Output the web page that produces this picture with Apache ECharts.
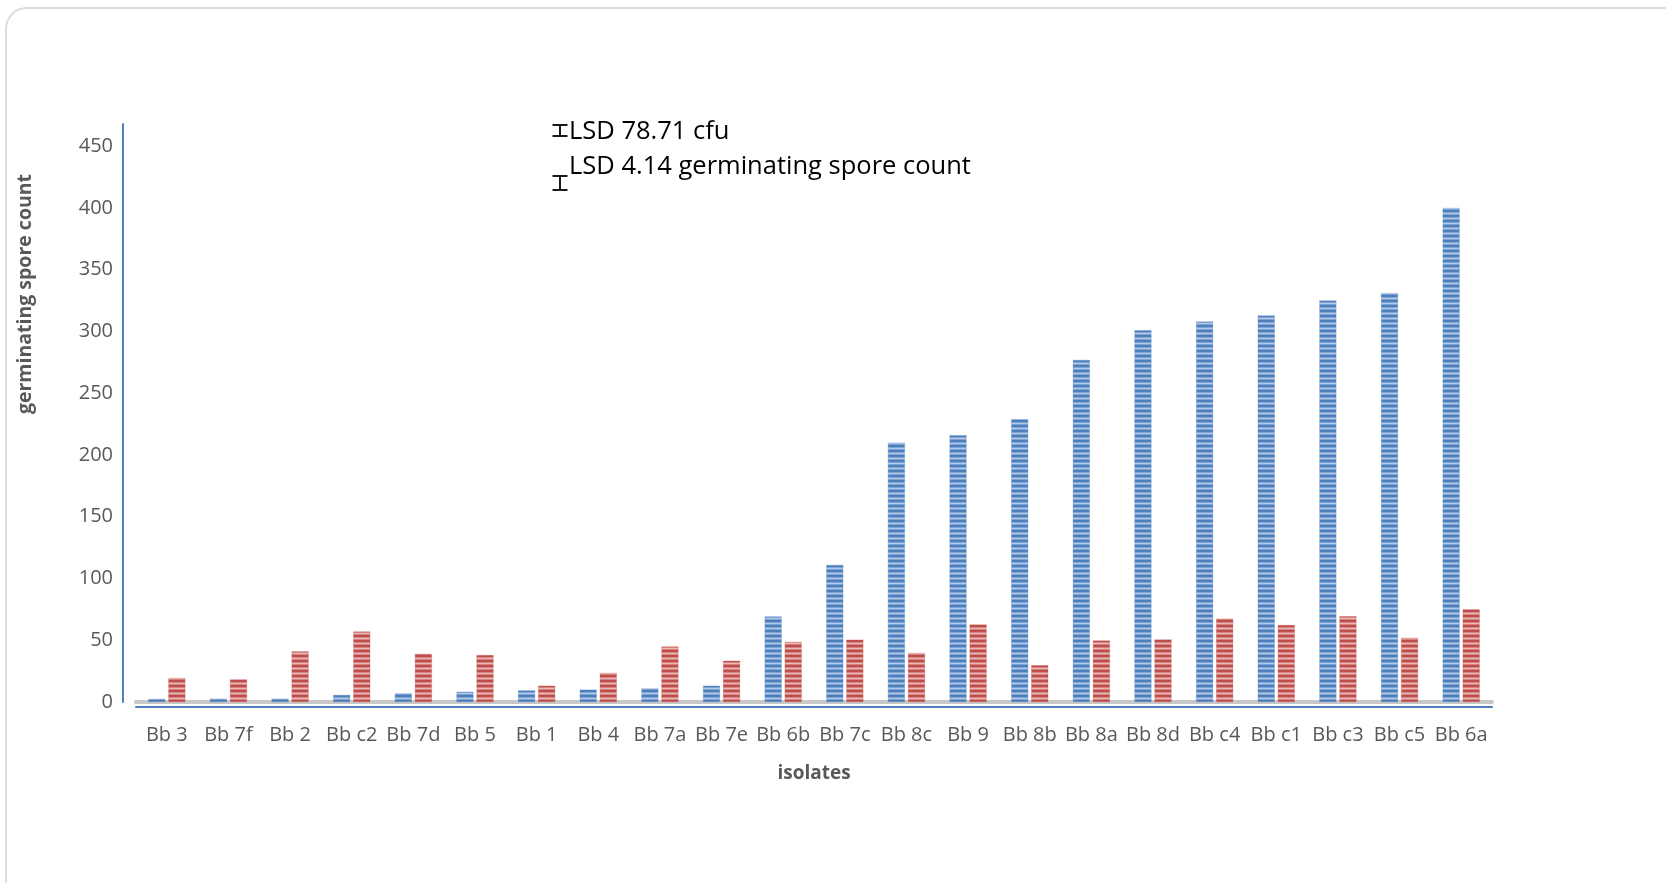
<!DOCTYPE html>
<html>
<head>
<meta charset="utf-8">
<title>germinating spore count</title>
<script src="https://cdn.jsdelivr.net/npm/echarts@6/dist/echarts.min.js"></script>
<style>
  html, body { margin: 0; padding: 0; background: #fff; overflow: hidden; }
  #frame {
    position: absolute; left: 5px; top: 7px; width: 1700px; height: 1000px;
    border: 2px solid #dcdcdc; border-radius: 22px; box-sizing: border-box;
  }
  #chart { position: absolute; left: 0; top: 0; width: 1666px; height: 883px; }
</style>
</head>
<body>
<div id="frame"></div>
<div id="chart"></div>
<script>
// data
const isolates = ['Bb 3', 'Bb 7f', 'Bb 2', 'Bb c2', 'Bb 7d', 'Bb 5', 'Bb 1', 'Bb 4', 'Bb 7a', 'Bb 7e', 'Bb 6b',
  'Bb 7c', 'Bb 8c', 'Bb 9', 'Bb 8b', 'Bb 8a', 'Bb 8d', 'Bb c4', 'Bb c1', 'Bb c3', 'Bb c5', 'Bb 6a']
const cfu = [2.5, 2.7, 2.7, 5.7, 7, 8.3, 9.4, 10, 11, 13.2, 69.3, 111, 210, 216, 229, 277, 301, 308, 313, 325, 331, 400]
const germinating = [19.4, 18.3, 41, 57, 39, 38, 13.2, 23.5, 45, 33.4, 48.6, 50.5, 39.7, 62.8, 29.8, 49.8, 50.7, 67.5, 62.3, 69.4, 52, 75]
const yTicks = { min: 0, max: 468, interval: 50 }

// horizontal stripe fill like the excel pattern
const stripes = (rows) => {
  const c = document.createElement('canvas')
  c.width = 4
  c.height = rows.length
  const ctx = c.getContext('2d')
  rows.forEach((col, i) => {
    ctx.fillStyle = col
    ctx.fillRect(0, i, 4, 1)
  })
  return { image: c, repeat: 'repeat' }
}
const blueFill = stripes(['#4A7EBB', '#4F81BD', '#7FA4D3', '#B3CAE8', '#7FA4D3'])
const redFill = stripes(['#BC4C49', '#C0504D', '#D58482', '#EBB8B7', '#D58482'])

const gray = '#595959'
const chart = echarts.init(document.getElementById('chart'))

// small I-beam marks beside the LSD notes
const ibeam = (x, y1, y2, w) => ({
  type: 'group',
  children: [
    { type: 'line', shape: { x1: x - w / 2, y1: y1, x2: x + w / 2, y2: y1 }, style: { stroke: '#000', lineWidth: 1.8 } },
    { type: 'line', shape: { x1: x, y1: y1, x2: x, y2: y2 }, style: { stroke: '#000', lineWidth: 1.8 } },
    { type: 'line', shape: { x1: x - w / 2, y1: y2, x2: x + w / 2, y2: y2 }, style: { stroke: '#000', lineWidth: 1.8 } },
  ],
})

const option = {
  animation: false,
  textStyle: { fontFamily: 'Open Sans' },
  grid: { left: 136, right: 174, top: 124, bottom: 181 },
  xAxis: [
    {
      type: 'category',
      data: isolates,
      axisLine: { lineStyle: { color: '#c8c8c8', width: 4 } },
      axisTick: { show: false },
      axisLabel: { color: gray, fontSize: 20, margin: 23, interval: 0 },
      name: 'isolates',
      nameLocation: 'middle',
      nameGap: 62,
      nameTextStyle: { color: gray, fontSize: 19, fontWeight: 'bold' },
    },
    {
      type: 'category',
      data: isolates,
      position: 'bottom',
      offset: 5,
      axisLine: { lineStyle: { color: '#4F81BD', width: 2 } },
      axisTick: { show: false },
      axisLabel: { show: false },
    },
  ],
  yAxis: {
    type: 'value',
    min: yTicks.min,
    max: yTicks.max,
    interval: yTicks.interval,
    offset: 13,
    axisLine: { show: true, lineStyle: { color: '#4F81BD', width: 2 } },
    axisTick: { show: false },
    splitLine: { show: false },
    axisLabel: { color: gray, fontSize: 20, margin: 10, showMaxLabel: false, padding: [8, 0, 0, 0] },
    name: 'germinating spore count',
    nameLocation: 'middle',
    nameGap: 88,
    nameRotate: 90,
    nameTextStyle: { color: gray, fontSize: 19.5, fontWeight: 'bold', padding: [0, 0, 0, 238] },
  },
  series: [
    {
      type: 'bar',
      name: 'cfu',
      data: cfu,
      barWidth: 17,
      barGap: '18%',
      itemStyle: { color: blueFill, borderColor: 'rgba(79,129,189,0.6)', borderWidth: 0.5 },
    },
    {
      type: 'bar',
      name: 'germinating spore count',
      data: germinating,
      barWidth: 17,
      itemStyle: { color: redFill, borderColor: 'rgba(192,80,77,0.6)', borderWidth: 0.5 },
    },
  ],
  graphic: [
    ibeam(560, 125, 136, 15),
    ibeam(560, 176, 190, 15),
    {
      type: 'text', left: 569, top: 119,
      style: { text: 'LSD 78.71 cfu', fill: '#000', font: '25.5px "Open Sans"' },
    },
    {
      type: 'text', left: 569, top: 154,
      style: { text: 'LSD 4.14 germinating spore count', fill: '#000', font: '25.5px "Open Sans"' },
    },
  ],
}
chart.setOption(option)
window.addEventListener('resize', () => chart.resize())
</script>
</body>
</html>
